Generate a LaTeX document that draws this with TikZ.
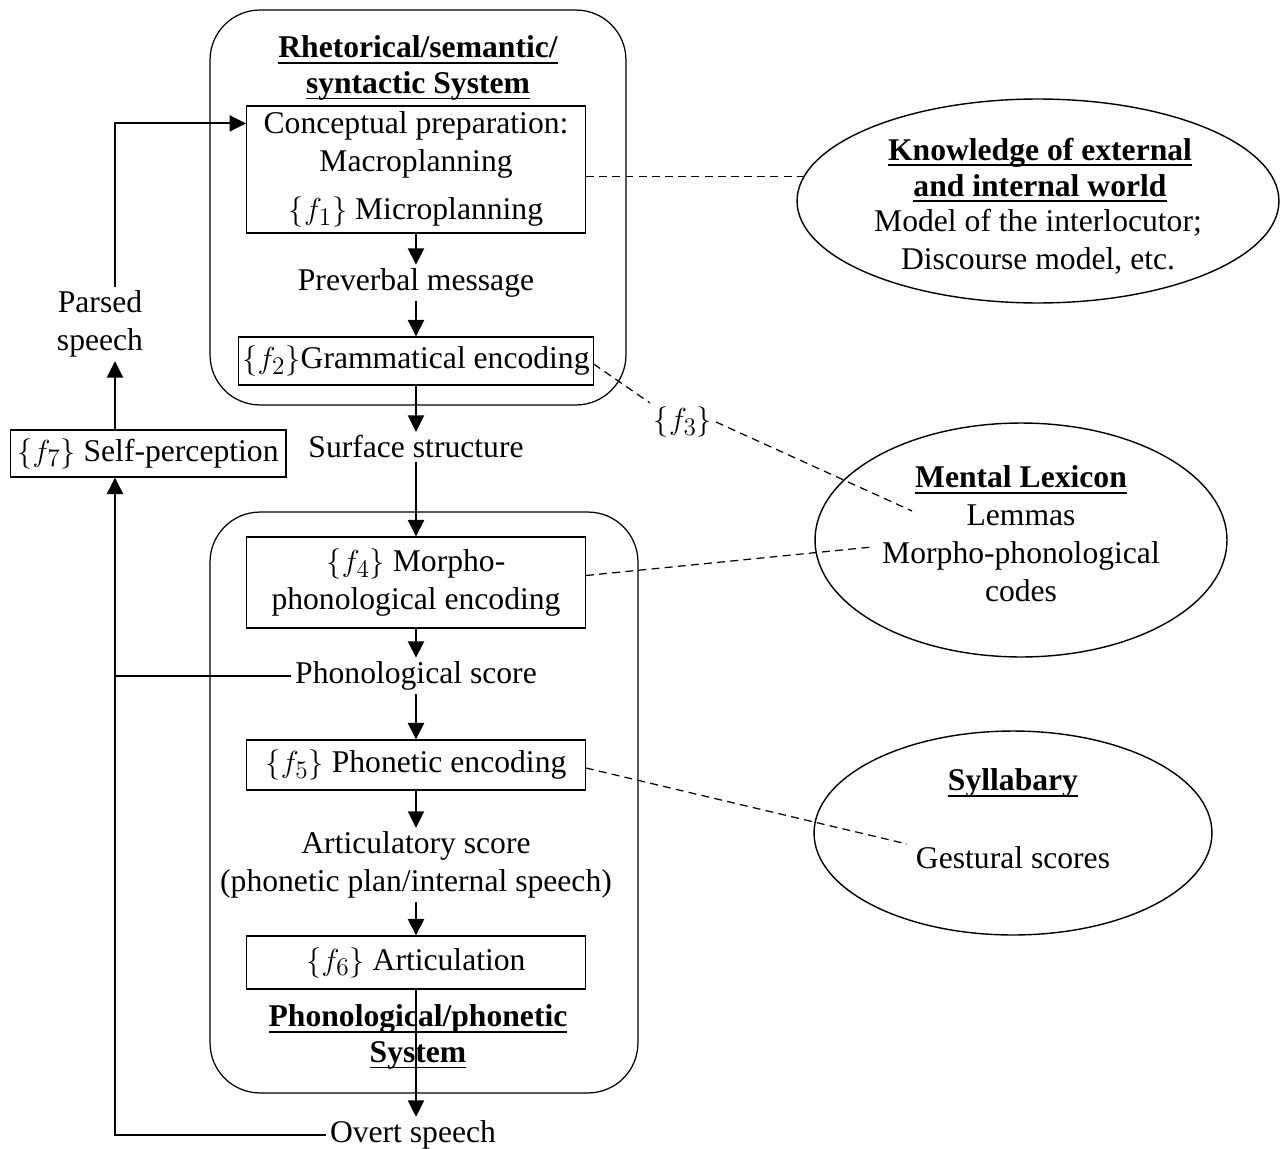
\documentclass[tikz,border=0pt]{standalone}
\usepackage{fontspec}
\setmainfont{Liberation Serif}
\usetikzlibrary{calc,arrows.meta,shapes.geometric}
\DeclareMathSizes{18}{18}{14.5}{11}

% underline sitting just below the baseline
\newcommand{\ulined}[1]{\setbox0\hbox{#1}\rlap{\rule[-3.4pt]{\wd0}{1.1pt}}\box0}

\tikzset{
  every node/.style={font=\fontsize{18}{21.6}\selectfont, align=center, inner sep=2pt},
  procbox/.style={draw, line width=0.6pt, minimum width=6.78cm},
  sysbox/.style={draw, line width=0.7pt, rounded corners=1cm},
  world/.style={draw, ellipse, line width=0.8pt},
  title/.style={font=\fontsize{18}{20.4}\selectfont\bfseries},
  arr/.style={line width=1.2pt, -{Triangle[length=0.33cm,width=0.32cm]}},
  plain/.style={line width=1.2pt},
  dashlink/.style={line width=0.7pt, dash pattern=on 4.5pt off 3pt}
}

\begin{document}
\begin{tikzpicture}[x=0.02cm, y=-0.02cm]
    \useasboundingbox (0,0) rectangle (1281,1149);
    % Systems
    \node[sysbox, minimum width=8.32cm, minimum height=7.9cm] (upper) at (418,207.5) {};
    \node[sysbox, minimum width=8.56cm, minimum height=11.62cm] (lower) at (424,802.5) {};
    \node[title] (rsstitle) at (418,68) {\ulined{Rhetorical/semantic/}\\\ulined{syntactic System}};
    \node[title] (pptitle) at (418,1037) {\ulined{Phonological/phonetic}\\\ulined{System}};
    % Processing stages
    \node[procbox, minimum height=2.54cm] (concept) at (416,169.5) {Conceptual preparation:\\Macroplanning\\[0.2cm]$\{f_1\}$ Microplanning};
    \node (preverbal) at (416,283) {Preverbal message};
    \node[procbox, minimum height=0.96cm] (gram) at (416,361) {$\{f_2\}$Grammatical encoding};
    \node (surface) at (416,447) {Surface structure};
    \node[procbox, minimum height=1.82cm] (morph) at (416,582.5) {$\{f_4\}$ Morpho-\\phonological encoding};
    \node (phonscore) at (416,676) {Phonological score};
    \node[procbox, minimum height=1cm] (phonetic) at (416,765) {$\{f_5\}$ Phonetic encoding};
    \node (artscore) at (416,865) {Articulatory score\\(phonetic plan/internal speech)};
    \node[procbox, minimum height=1.06cm] (artic) at (416,962.5) {$\{f_6\}$ Articulation};
    \node (overt) at (413,1135) {Overt speech};
    % Monitoring
    \node[procbox, minimum width=5.52cm, minimum height=0.94cm] (selfper) at (148,453.5) {$\{f_7\}$ Self-perception};
    \node (parsed) at (100,324) {Parsed\\speech};
    % Knowledge stores
    \node[world, minimum width=9.64cm, minimum height=4.08cm] (know) at (1038,201) {};
    \node[title] (knowtitle) at (1040,170) {\ulined{Knowledge of external}\\\ulined{and internal world}};
    \node (knowitems) at (1038,242) {Model of the interlocutor;\\Discourse model, etc.};
    \node[world, minimum width=8.24cm, minimum height=4.68cm] (lexicon) at (1021,540) {};
    \node[title] (lextitle) at (1021,480) {\ulined{Mental Lexicon}};
    \node (lexitems) at (1021,553) {Lemmas\\Morpho-phonological\\codes};
    \node[world, minimum width=7.96cm, minimum height=4.08cm] (syllab) at (1013,833) {};
    \node[title] (syltitle) at (1013,783) {\ulined{Syllabary}};
    \node (gestural) at (1013,858) {Gestural scores};
    \node (f3) at (683,422) {$\{f_3\}$};
    % Main flow
    \draw[arr] (concept) -- (preverbal);
    \draw[arr] (preverbal) -- (gram);
    \draw[arr] (gram) -- (surface);
    \draw[arr] (surface) -- (morph);
    \draw[arr] (morph) -- (phonscore);
    \draw[arr] (phonscore) -- (phonetic);
    \draw[arr] (phonetic) -- (artscore);
    \draw[arr] (artscore) -- (artic);
    \draw[arr] (artic) -- (artic |- overt.north);
    % Feedback loop
    \coordinate (fb) at (115,1138);
    \coordinate (conceptin) at ($(concept.north west)!0.14!(concept.south west)$);
    \draw[arr] (overt.west) -| (fb |- selfper.south);
    \draw[plain] (phonscore.west) -- (fb |- phonscore.west);
    \draw[arr] (fb |- selfper.north) -- (fb |- parsed.south);
    \draw[arr] (fb |- parsed.north) |- (conceptin);
    % Links to the stores
    \coordinate (lemmaend) at (912,511);
    \coordinate (codesend) at (872,547);
    \coordinate (gestend) at (907,844);
    \draw[dashlink] (concept.east |- know.174) -- (know.174);
    \draw[dashlink] ($(gram.east)+(0,3)$) -- (f3.north west);
    \draw[dashlink] (f3.east) -- (lemmaend);
    \draw[dashlink] ($(morph.east)+(0,-7)$) -- (codesend);
    \draw[dashlink] ($(phonetic.east)+(0,3)$) -- (gestend);
\end{tikzpicture}
\end{document}
